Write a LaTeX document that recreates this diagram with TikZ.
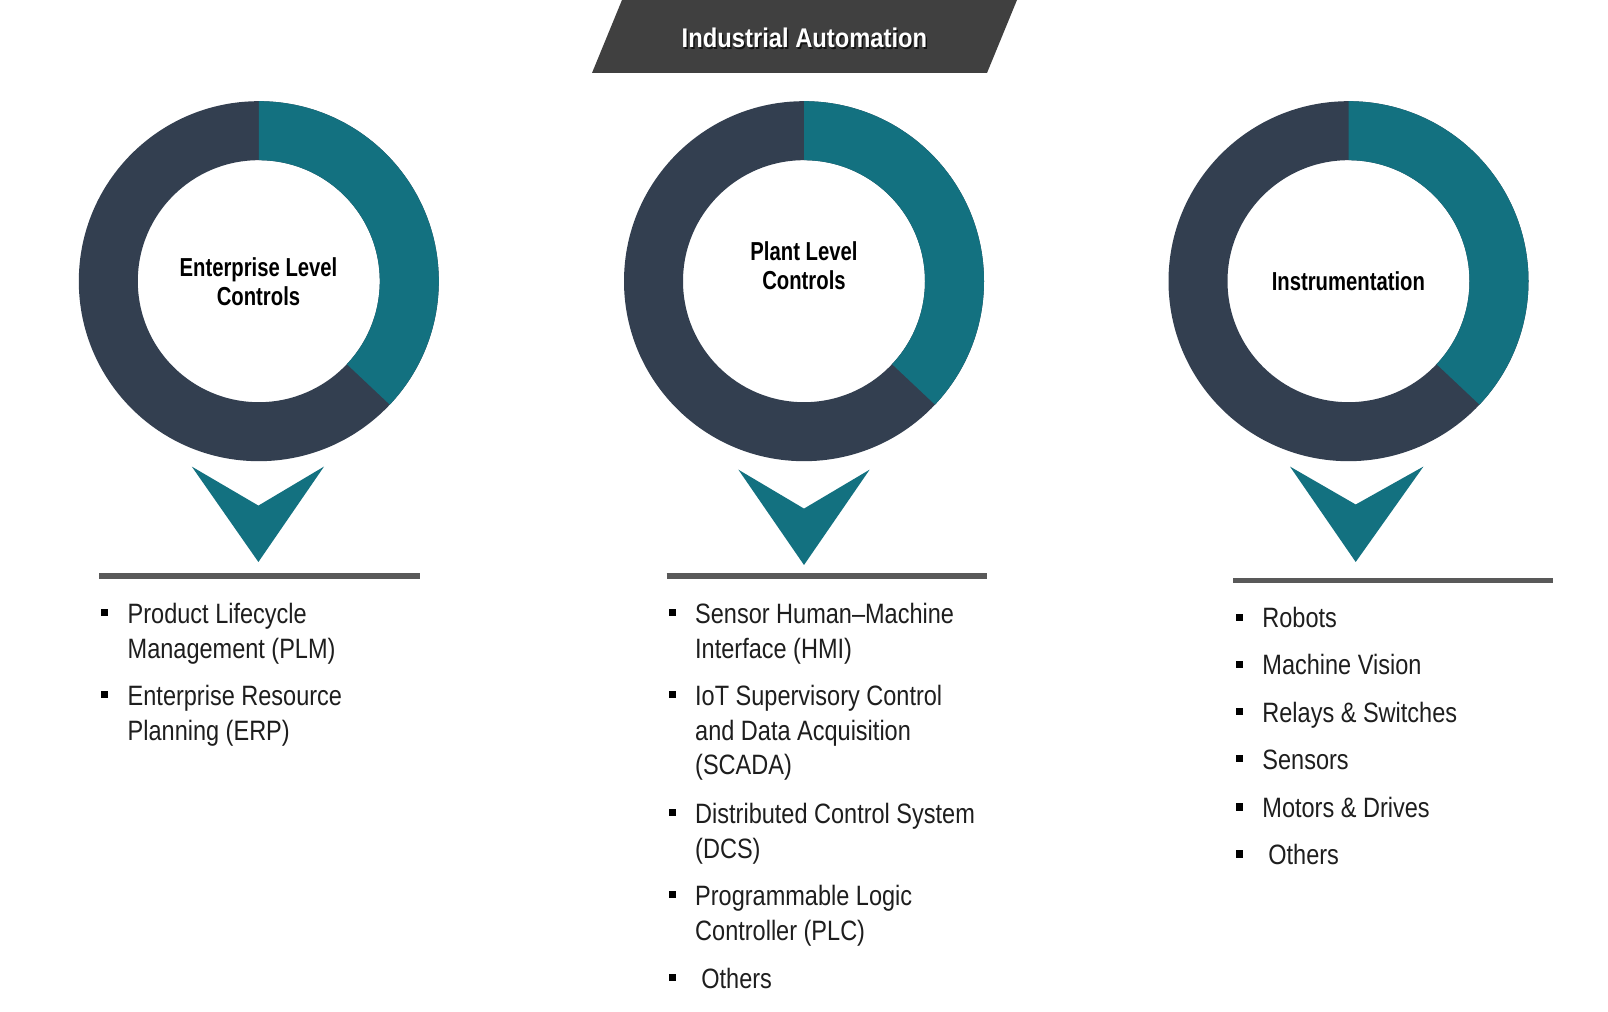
\documentclass[tikz,border=0pt]{standalone}
\usepackage{fontspec}
\setmainfont{Liberation Sans}
\newfontfamily\bodyfont[FakeStretch=0.84]{Liberation Sans}
\newfontfamily\headfont[FakeStretch=0.78]{Liberation Sans}
\newfontfamily\titlefont[FakeStretch=0.88]{Liberation Sans}
\definecolor{navy}{RGB}{51,63,80}
\definecolor{tealc}{RGB}{19,113,128}
\definecolor{bannerc}{RGB}{64,64,64}
\definecolor{barg}{RGB}{89,89,89}
\definecolor{txt}{RGB}{30,30,30}
\begin{document}
\begin{tikzpicture}[x=0.5pt,y=0.5pt,
  body/.style={anchor=base west, inner sep=0pt, font=\bodyfont\fontsize{14}{17}\selectfont, text=txt},
  head/.style={anchor=base, inner sep=0pt, font=\headfont\bfseries\fontsize{13}{16}\selectfont, text=black},
  bul/.style={fill=black, minimum size=3.7pt, inner sep=0pt, draw=none},
  bar/.style={draw=barg, line width=2.85pt},
  chev/.style={fill=tealc},
]
\useasboundingbox[fill=white] (0,0) rectangle (1608,1012);

% title banner
\fill[bannerc] (622,1012) -- (1017,1012) -- (987,939) -- (592,939) -- cycle;
\node[anchor=base, inner sep=0pt, font=\titlefont\bfseries\fontsize{13.5}{16}\selectfont, text=black, opacity=0.7] (titleshadow) at (806,962.8) {Industrial Automation};
\node[anchor=base, inner sep=0pt, font=\titlefont\bfseries\fontsize{13.5}{16}\selectfont, text=white] (title) at (804.5,964.3) {Industrial Automation};

% donuts
\foreach \cx in {258.8, 804, 1348.5} {
  \fill[navy, even odd rule] (\cx,730.8) circle[radius=180] (\cx,730.8) circle[radius=121];
  \fill[tealc] (\cx,730.8) ++(90:180) arc[start angle=90, end angle=-43.3, radius=180]
     -- ++(136.7:59) arc[start angle=-43.3, end angle=90, radius=121] -- cycle;
}

% donut labels
\node[head] (h1a) at (258.5,735.8) {Enterprise Level};
\node[head] (h1b) at (258.5,706.1) {Controls};
\node[head] (h2a) at (804,751.7) {Plant Level};
\node[head] (h2b) at (804,722.2) {Controls};
\node[head] (h3) at (1348.4,721) {Instrumentation};

% chevrons
\fill[chev] (191.8,545.4) -- (258.4,506.4) -- (324,545.4) -- (258.4,450) -- cycle;
\fill[chev] (738.4,542.3) -- (804,503.4) -- (869.6,542.3) -- (804,447) -- cycle;
\fill[chev] (1290,545.4) -- (1355.7,507.5) -- (1423.4,545.4) -- (1355.7,450) -- cycle;

% bars
\draw[bar] (99.3,436) -- (420,436);
\draw[bar] (666.6,435.7) -- (986.5,435.7);
\draw[bar] (1233.3,431.5) -- (1553.3,431.5);

% column 1
\node[bul] (b11) at (104.5,399.5) {};
\node[body] (t11a) at (127.3,388.8) {Product Lifecycle};
\node[body] (t11b) at (127.3,353.9) {Management (PLM)};
\node[bul] (b12) at (104.5,317.4) {};
\node[body] (t12a) at (127.3,306.7) {Enterprise Resource};
\node[body] (t12b) at (127.3,271.8) {Planning (ERP)};

% column 2
\node[bul] (b21) at (672.7,399.5) {};
\node[body] (t21a) at (694.8,388.8) {Sensor Human–Machine};
\node[body] (t21b) at (694.8,353.9) {Interface (HMI)};
\node[bul] (b22) at (672.7,317.4) {};
\node[body] (t22a) at (694.8,306.7) {IoT Supervisory Control};
\node[body] (t22b) at (694.8,271.8) {and Data Acquisition};
\node[body] (t22c) at (694.8,237) {(SCADA)};
\node[bul] (b23) at (672.7,199.5) {};
\node[body] (t23a) at (694.8,188.8) {Distributed Control System};
\node[body] (t23b) at (694.8,153.9) {(DCS)};
\node[bul] (b24) at (672.7,117.4) {};
\node[body] (t24a) at (694.8,106.7) {Programmable Logic};
\node[body] (t24b) at (694.8,71.9) {Controller (PLC)};
\node[bul] (b25) at (672.7,34.4) {};
\node[body] (t25) at (701,23.7) {Others};

% column 3
\node[bul] (b31) at (1239.7,394.7) {};
\node[body] (t31) at (1262,384) {Robots};
\node[bul] (b32) at (1239.7,347.7) {};
\node[body] (t32) at (1262,337) {Machine Vision};
\node[bul] (b33) at (1239.7,300.5) {};
\node[body] (t33) at (1262,289.8) {Relays \& Switches};
\node[bul] (b34) at (1239.7,253.3) {};
\node[body] (t34) at (1262,242.6) {Sensors};
\node[bul] (b35) at (1239.7,205.1) {};
\node[body] (t35) at (1262,194.4) {Motors \& Drives};
\node[bul] (b36) at (1239.7,157.9) {};
\node[body] (t36) at (1268,147.2) {Others};
\end{tikzpicture}
\end{document}
